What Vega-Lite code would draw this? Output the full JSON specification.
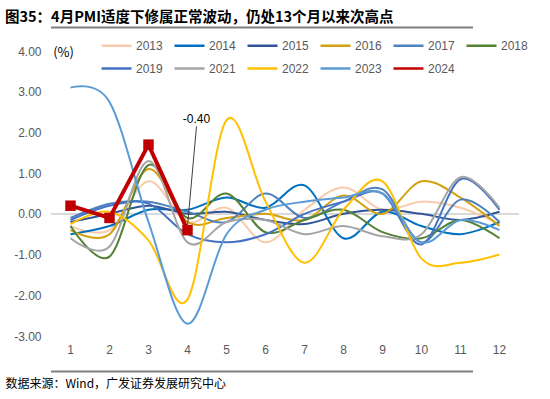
{
  "$schema": "https://vega.github.io/schema/vega-lite/v6.json",
  "width": 468,
  "height": 285,
  "autosize": {"type": "none"},
  "padding": {"left": 51, "top": 51, "right": 31, "bottom": 63},
  "config": {
    "view": {"stroke": null},
    "font": "Liberation Sans",
    "locale": {"number": {"decimal": ".", "thousands": ",", "grouping": [3], "currency": ["$", ""], "minus": "-"}}
  },
  "title": {
    "text": "图35：4月PMI适度下修属正常波动，仍处13个月以来次高点",
    "anchor": "start",
    "frame": "group",
    "dx": -46,
    "dy": 12,
    "font": "Noto Sans CJK SC",
    "fontSize": 14.5,
    "fontWeight": "bold",
    "color": "#000000",
    "offset": 13
  },
  "datasets": {
    "d": [
      {"year": "2013", "m": 1, "v": -0.3}, {"year": "2013", "m": 2, "v": -0.4}, {"year": "2013", "m": 3, "v": 0.8}, {"year": "2013", "m": 4, "v": -0.2}, {"year": "2013", "m": 5, "v": 0.15}, {"year": "2013", "m": 6, "v": -0.7}, {"year": "2013", "m": 7, "v": 0.1}, {"year": "2013", "m": 8, "v": 0.65}, {"year": "2013", "m": 9, "v": 0.1}, {"year": "2013", "m": 10, "v": 0.3}, {"year": "2013", "m": 11, "v": 0.15}, {"year": "2013", "m": 12, "v": -0.25},
      {"year": "2014", "m": 1, "v": -0.5}, {"year": "2014", "m": 2, "v": -0.3}, {"year": "2014", "m": 3, "v": 0.1}, {"year": "2014", "m": 4, "v": 0.1}, {"year": "2014", "m": 5, "v": 0.4}, {"year": "2014", "m": 6, "v": 0.15}, {"year": "2014", "m": 7, "v": 0.7}, {"year": "2014", "m": 8, "v": -0.6}, {"year": "2014", "m": 9, "v": 0.05}, {"year": "2014", "m": 10, "v": -0.3}, {"year": "2014", "m": 11, "v": -0.5}, {"year": "2014", "m": 12, "v": -0.2},
      {"year": "2015", "m": 1, "v": -0.2}, {"year": "2015", "m": 2, "v": 0.0}, {"year": "2015", "m": 3, "v": 0.2}, {"year": "2015", "m": 4, "v": 0.0}, {"year": "2015", "m": 5, "v": 0.05}, {"year": "2015", "m": 6, "v": -0.15}, {"year": "2015", "m": 7, "v": -0.25}, {"year": "2015", "m": 8, "v": 0.0}, {"year": "2015", "m": 9, "v": 0.1}, {"year": "2015", "m": 10, "v": 0.0}, {"year": "2015", "m": 11, "v": -0.15}, {"year": "2015", "m": 12, "v": 0.05},
      {"year": "2016", "m": 1, "v": -0.4}, {"year": "2016", "m": 2, "v": -0.5}, {"year": "2016", "m": 3, "v": 1.1}, {"year": "2016", "m": 4, "v": -0.2}, {"year": "2016", "m": 5, "v": -0.1}, {"year": "2016", "m": 6, "v": 0.0}, {"year": "2016", "m": 7, "v": -0.15}, {"year": "2016", "m": 8, "v": 0.45}, {"year": "2016", "m": 9, "v": 0.0}, {"year": "2016", "m": 10, "v": 0.8}, {"year": "2016", "m": 11, "v": 0.4}, {"year": "2016", "m": 12, "v": -0.3},
      {"year": "2017", "m": 1, "v": -0.1}, {"year": "2017", "m": 2, "v": 0.25}, {"year": "2017", "m": 3, "v": 0.3}, {"year": "2017", "m": 4, "v": 0.05}, {"year": "2017", "m": 5, "v": -0.2}, {"year": "2017", "m": 6, "v": 0.5}, {"year": "2017", "m": 7, "v": -0.1}, {"year": "2017", "m": 8, "v": 0.3}, {"year": "2017", "m": 9, "v": 0.6}, {"year": "2017", "m": 10, "v": -0.7}, {"year": "2017", "m": 11, "v": 0.35}, {"year": "2017", "m": 12, "v": -0.2},
      {"year": "2018", "m": 1, "v": -0.3}, {"year": "2018", "m": 2, "v": -1.05}, {"year": "2018", "m": 3, "v": 1.2}, {"year": "2018", "m": 4, "v": -0.1}, {"year": "2018", "m": 5, "v": 0.5}, {"year": "2018", "m": 6, "v": -0.45}, {"year": "2018", "m": 7, "v": -0.15}, {"year": "2018", "m": 8, "v": 0.1}, {"year": "2018", "m": 9, "v": -0.45}, {"year": "2018", "m": 10, "v": -0.6}, {"year": "2018", "m": 11, "v": -0.15}, {"year": "2018", "m": 12, "v": -0.6},
      {"year": "2019", "m": 1, "v": -0.15}, {"year": "2019", "m": 2, "v": 0.2}, {"year": "2019", "m": 3, "v": 0.25}, {"year": "2019", "m": 4, "v": -0.5}, {"year": "2019", "m": 5, "v": -0.7}, {"year": "2019", "m": 6, "v": -0.5}, {"year": "2019", "m": 7, "v": 0.0}, {"year": "2019", "m": 8, "v": 0.3}, {"year": "2019", "m": 9, "v": 0.5}, {"year": "2019", "m": 10, "v": -0.75}, {"year": "2019", "m": 11, "v": 0.85}, {"year": "2019", "m": 12, "v": 0.1},
      {"year": "2021", "m": 1, "v": -0.6}, {"year": "2021", "m": 2, "v": -0.8}, {"year": "2021", "m": 3, "v": 1.3}, {"year": "2021", "m": 4, "v": -0.7}, {"year": "2021", "m": 5, "v": -0.2}, {"year": "2021", "m": 6, "v": -0.15}, {"year": "2021", "m": 7, "v": -0.5}, {"year": "2021", "m": 8, "v": -0.3}, {"year": "2021", "m": 9, "v": -0.55}, {"year": "2021", "m": 10, "v": -0.5}, {"year": "2021", "m": 11, "v": 0.9}, {"year": "2021", "m": 12, "v": 0.15},
      {"year": "2022", "m": 1, "v": -0.25}, {"year": "2022", "m": 2, "v": 0.05}, {"year": "2022", "m": 3, "v": -0.65}, {"year": "2022", "m": 4, "v": -2.1}, {"year": "2022", "m": 5, "v": 2.3}, {"year": "2022", "m": 6, "v": 0.3}, {"year": "2022", "m": 7, "v": -1.2}, {"year": "2022", "m": 8, "v": 0.1}, {"year": "2022", "m": 9, "v": 0.8}, {"year": "2022", "m": 10, "v": -1.1}, {"year": "2022", "m": 11, "v": -1.2}, {"year": "2022", "m": 12, "v": -1.0},
      {"year": "2023", "m": 1, "v": 3.1}, {"year": "2023", "m": 2, "v": 2.75}, {"year": "2023", "m": 3, "v": -0.2}, {"year": "2023", "m": 4, "v": -2.7}, {"year": "2023", "m": 5, "v": -0.5}, {"year": "2023", "m": 6, "v": 0.1}, {"year": "2023", "m": 7, "v": 0.3}, {"year": "2023", "m": 8, "v": 0.4}, {"year": "2023", "m": 9, "v": 0.5}, {"year": "2023", "m": 10, "v": -0.7}, {"year": "2023", "m": 11, "v": -0.15}, {"year": "2023", "m": 12, "v": -0.4},
      {"year": "2024", "m": 1, "v": 0.2}, {"year": "2024", "m": 2, "v": -0.1}, {"year": "2024", "m": 3, "v": 1.7}, {"year": "2024", "m": 4, "v": -0.4}
    ]
  },
  "data": {"name": "d"},
  "layer": [
    {
      "mark": {"type": "rule", "color": "#D9D9D9", "strokeWidth": 1},
      "encoding": {"y": {"datum": 0, "type": "quantitative"}}
    },
    {
      "transform": [{"filter": "datum.year !== '2024'"}],
      "mark": {"type": "line", "interpolate": "cardinal", "tension": 0, "strokeWidth": 2},
      "encoding": {
        "x": {
          "field": "m", "type": "ordinal",
          "axis": {
            "domain": false, "ticks": false, "labelAngle": 0, "labelFontSize": 12, "labelColor": "#595959", "labelPadding": 8,
            "title": "数据来源：Wind，广发证券发展研究中心",
            "titleFont": "Noto Sans CJK SC", "titleFontSize": 12, "titleFontWeight": "normal", "titleColor": "#000000",
            "titleAnchor": "start", "titleAlign": "left", "titleX": -46, "titleY": 47, "titleBaseline": "middle"
          }
        },
        "y": {
          "field": "v", "type": "quantitative",
          "scale": {"domain": [-3, 4]},
          "axis": {"values": [-3, -2, -1, 0, 1, 2, 3, 4], "format": ".2f", "grid": false, "domain": false, "ticks": false, "labelFontSize": 12, "labelColor": "#595959", "labelPadding": 10, "title": null}
        },
        "color": {
          "field": "year", "type": "nominal",
          "scale": {
            "domain": ["2013", "2014", "2015", "2016", "2017", "2018", "2019", "2021", "2022", "2023", "2024"],
            "range": ["#F8CBAD", "#0070C0", "#2F5597", "#D4A00F", "#4F81BD", "#548235", "#4472C4", "#A5A5A5", "#FFC000", "#5B9BD5", "#C00000"]
          },
          "legend": {
            "orient": "none", "legendX": 49, "legendY": -22, "direction": "horizontal", "columns": 6, "title": null,
            "symbolType": "stroke", "symbolSize": 900, "symbolStrokeWidth": 2.5, "labelFontSize": 12, "labelColor": "#595959",
            "labelOffset": 3, "columnPadding": 6, "rowPadding": -10
          }
        }
      }
    },
    {
      "transform": [{"filter": "datum.year === '2024'"}],
      "mark": {"type": "line", "strokeWidth": 4},
      "encoding": {
        "x": {"field": "m", "type": "ordinal"},
        "y": {"field": "v", "type": "quantitative"},
        "color": {"field": "year", "type": "nominal"}
      }
    },
    {
      "transform": [{"filter": "datum.year === '2024'"}],
      "mark": {"type": "square", "size": 110, "opacity": 1, "filled": true},
      "encoding": {
        "x": {"field": "m", "type": "ordinal"},
        "y": {"field": "v", "type": "quantitative"},
        "color": {"field": "year", "type": "nominal"}
      }
    },
    {
      "transform": [{"filter": "datum.year === '2024' && datum.m === 4"}],
      "mark": {"type": "rule", "color": "#404040", "strokeWidth": 1, "x2Offset": 9},
      "encoding": {
        "x": {"field": "m", "type": "ordinal"},
        "x2": {"field": "m"},
        "y": {"datum": -0.3, "type": "quantitative"},
        "y2": {"datum": 2.15}
      }
    },
    {
      "transform": [{"filter": "datum.year === '2024' && datum.m === 4"}],
      "mark": {"type": "text", "fontSize": 12, "color": "#000000", "dx": 9, "baseline": "middle"},
      "encoding": {
        "x": {"field": "m", "type": "ordinal"},
        "y": {"datum": 2.32, "type": "quantitative"},
        "text": {"field": "v", "format": ".2f"}
      }
    },
    {
      "data": {"values": [{"m": 1, "label": "(%)"}]},
      "mark": {"type": "text", "fontSize": 13, "color": "#000000", "dx": -7, "baseline": "middle", "font": "Noto Sans CJK SC"},
      "encoding": {
        "x": {"field": "m", "type": "ordinal"},
        "y": {"datum": 3.95, "type": "quantitative"},
        "text": {"field": "label"}
      }
    },
    {
      "data": {"values": [{"k": 1}]},
      "mark": {"type": "rule", "color": "#7F7F7F", "strokeWidth": 2, "xOffset": -46, "x2Offset": 26},
      "encoding": {"y": {"datum": 4.58, "type": "quantitative"}}
    },
    {
      "data": {"values": [{"k": 1}]},
      "mark": {"type": "rule", "color": "#7F7F7F", "strokeWidth": 2, "xOffset": -46, "x2Offset": 26},
      "encoding": {"y": {"datum": -3.87, "type": "quantitative"}}
    }
  ]
}
